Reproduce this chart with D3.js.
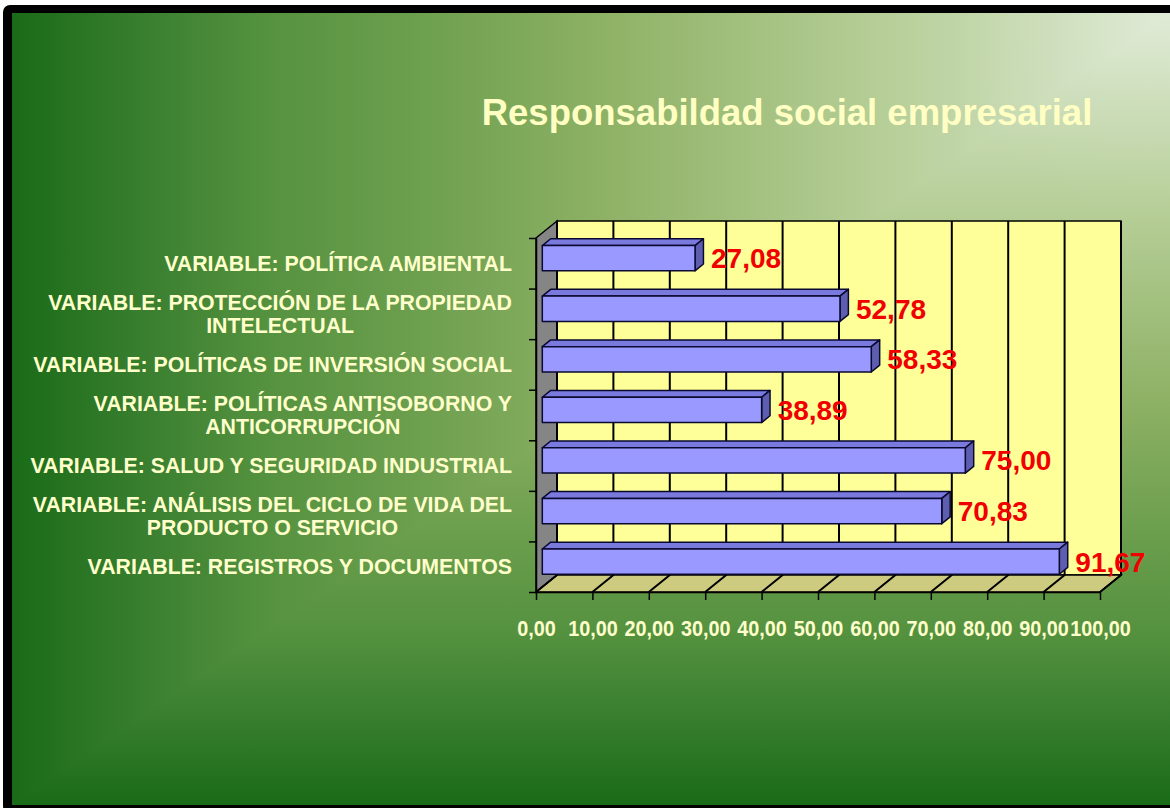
<!DOCTYPE html>
<html>
<head>
<meta charset="utf-8">
<script src="https://cdn.jsdelivr.net/npm/d3@7"></script>
<style>
  html, body { margin: 0; padding: 0; background: #ffffff; }
  svg { display: block; }
  text { font-family: "Liberation Sans", Arial, sans-serif; }
</style>
</head>
<body>
<svg id="chart" width="1170" height="808"></svg>
<script>
// Chart data
const title = "Responsabildad social empresarial";
const categories = [
  "VARIABLE: POLÍTICA AMBIENTAL",
  "VARIABLE: PROTECCIÓN DE LA PROPIEDAD\nINTELECTUAL",
  "VARIABLE: POLÍTICAS DE INVERSIÓN SOCIAL",
  "VARIABLE: POLÍTICAS ANTISOBORNO Y\nANTICORRUPCIÓN",
  "VARIABLE: SALUD Y SEGURIDAD INDUSTRIAL",
  "VARIABLE: ANÁLISIS DEL CICLO DE VIDA DEL\nPRODUCTO O SERVICIO",
  "VARIABLE: REGISTROS Y DOCUMENTOS"
];
const values = [27.08, 52.78, 58.33, 38.89, 75.00, 70.83, 91.67];
const xTicks = [0, 10, 20, 30, 40, 50, 60, 70, 80, 90, 100];

const svg = d3.select("#chart");
const W = 1170, H = 808;
const defs = svg.append("defs");

// Frame and background: corner gradient lit from the top-right
const inner = { x: 12, y: 13, w: W - 12, h: 805 - 13 };
const stops = [
  [0.00, "#dde9d3"], [0.10, "#cddebb"], [0.25, "#b6ce97"], [0.50, "#8cb063"],
  [0.65, "#6c9f4e"], [0.78, "#55923f"], [0.88, "#3a8030"], [1.00, "#1a6b17"]
];
function addGrad(id, x1, y1, x2, y2) {
  const g = defs.append("linearGradient").attr("id", id)
    .attr("gradientUnits", "userSpaceOnUse")
    .attr("x1", x1).attr("y1", y1).attr("x2", x2).attr("y2", y2);
  stops.forEach(s => g.append("stop").attr("offset", s[0]).attr("stop-color", s[1]));
}
addGrad("gh", inner.x + inner.w, 0, inner.x, 0);
addGrad("gv", 0, inner.y, 0, inner.y + inner.h);
const glow = defs.append("radialGradient").attr("id", "glow")
  .attr("gradientUnits", "userSpaceOnUse").attr("cx", 1150).attr("cy", 25).attr("r", 200);
glow.append("stop").attr("offset", 0).attr("stop-color", "#ffffff").attr("stop-opacity", 0.08);
glow.append("stop").attr("offset", 1).attr("stop-color", "#ffffff").attr("stop-opacity", 0);

svg.append("rect").attr("x", 3).attr("y", 5).attr("width", W + 10).attr("height", H)
  .attr("rx", 7).attr("fill", "#000");
svg.append("rect").attr("x", inner.x).attr("y", inner.y)
  .attr("width", inner.w).attr("height", inner.h).attr("fill", "url(#gh)");
svg.append("polygon")
  .attr("points", [[inner.x + inner.w, inner.y], [inner.x + inner.w, inner.y + inner.h], [inner.x, inner.y + inner.h]].join(" "))
  .attr("fill", "url(#gv)");
svg.append("rect").attr("x", inner.x).attr("y", inner.y)
  .attr("width", inner.w).attr("height", inner.h).attr("fill", "url(#glow)");

// Title
svg.append("text")
  .attr("x", 787).attr("y", 125)
  .attr("text-anchor", "middle")
  .attr("font-size", 36.5).attr("font-weight", "bold")
  .attr("fill", "#ffffc4")
  .text(title);

// 3D plot geometry (oblique projection)
const origin = { x: 536, y: 238 };       // front plane, top-left corner
const plotW = 564, plotH = 354;
const depth = { dx: 21, dy: -17 };      // full depth of the box

const x = d3.scaleLinear().domain([0, 100]).range([0, plotW]);
const y = d3.scaleBand().domain(categories).range([0, plotH]);
const yEdge = d3.scaleLinear().domain([0, categories.length]).range([0, plotH]);

function P(px, py, d) {
  return [origin.x + px + d * depth.dx, origin.y + py + d * depth.dy];
}

const g = svg.append("g");

// Back wall
g.append("polygon")
  .attr("points", [P(0, 0, 1), P(plotW, 0, 1), P(plotW, plotH, 1), P(0, plotH, 1)].join(" "))
  .attr("fill", "#ffff99").attr("stroke", "#000").attr("stroke-width", 1.5);

// Floor
g.append("polygon")
  .attr("points", [P(0, plotH, 0), P(plotW, plotH, 0), P(plotW, plotH, 1), P(0, plotH, 1)].join(" "))
  .attr("fill", "#cdcb80").attr("stroke", "#000").attr("stroke-width", 1.5);

// Side wall
g.append("polygon")
  .attr("points", [P(0, 0, 0), P(0, 0, 1), P(0, plotH, 1), P(0, plotH, 0)].join(" "))
  .attr("fill", "#858585").attr("stroke", "#000").attr("stroke-width", 1.5);

// Gridlines on back wall and floor
const grid = g.append("g").attr("stroke", "#000").attr("stroke-width", 2);
xTicks.forEach(t => {
  const a = P(x(t), 0, 1), b = P(x(t), plotH, 1), c = P(x(t), plotH, 0);
  grid.append("polyline").attr("fill", "none").attr("points", [a, b, c].join(" "));
});

// Bars
const d1 = 0.3, d2 = 0.7;
const bdx = (d2 - d1) * depth.dx, bdy = (d2 - d1) * depth.dy;
const barH = y.bandwidth() * 0.5;
const bars = g.append("g").selectAll("g.bar")
  .data(categories.map((c, i) => ({ c, v: values[i] })))
  .join("g").attr("class", "bar")
  .attr("stroke", "#0a0a30").attr("stroke-width", 1.5).attr("stroke-linejoin", "round");

bars.each(function (d) {
  const sel = d3.select(this);
  const top = y(d.c) + (y.bandwidth() - barH) / 2;
  const [xs, yt] = P(x(0), top, d1);
  const [xe, yb] = P(x(d.v), top + barH, d1);
  sel.append("polygon")
    .attr("points", [[xs, yt], [xe, yt], [xe + bdx, yt + bdy], [xs + bdx, yt + bdy]].join(" "))
    .attr("fill", "#7a7ade");
  sel.append("polygon")
    .attr("points", [[xe, yt], [xe + bdx, yt + bdy], [xe + bdx, yb + bdy], [xe, yb]].join(" "))
    .attr("fill", "#5e5eb0");
  sel.append("rect")
    .attr("x", xs).attr("y", yt).attr("width", xe - xs).attr("height", yb - yt)
    .attr("fill", "#9999ff");
});

// Value labels
const fmt = v => d3.format(".2f")(v).replace(".", ",");
g.append("g").selectAll("text")
  .data(categories.map((c, i) => ({ c, v: values[i] })))
  .join("text")
  .attr("x", d => P(x(d.v), 0, d1)[0] + 16)
  .attr("y", d => P(0, y(d.c) + y.bandwidth() / 2, d1)[1] + 10)
  .attr("font-size", 28).attr("font-weight", "bold")
  .attr("fill", "#f00000")
  .text(d => fmt(d.v));

// Bottom axis (front edge of the floor)
const xAxis = g.append("g")
  .attr("transform", `translate(${origin.x},${origin.y + plotH})`)
  .call(d3.axisBottom(x).tickValues(xTicks).tickSize(8).tickSizeOuter(0).tickFormat(fmt));
xAxis.select(".domain").attr("stroke", "#000").attr("stroke-width", 1.5);
xAxis.selectAll(".tick line").attr("stroke", "#000").attr("stroke-width", 1.5);
xAxis.selectAll(".tick text")
  .attr("y", 28).attr("dy", "0.71em")
  .attr("transform", "scale(0.88,1)")
  .attr("font-family", "\"Liberation Sans\", Arial, sans-serif")
  .attr("font-size", 22.5).attr("font-weight", "bold")
  .attr("fill", "#ffffcc");

// Left axis (front edge of the side wall), ticks between categories
const yAxis = g.append("g")
  .attr("transform", `translate(${origin.x},${origin.y})`)
  .call(d3.axisLeft(yEdge).tickValues(d3.range(categories.length + 1)).tickSize(7).tickSizeOuter(0).tickFormat(""));
yAxis.select(".domain").attr("stroke", "#000").attr("stroke-width", 1.5);
yAxis.selectAll(".tick line").attr("stroke", "#000").attr("stroke-width", 1.5);

// Category labels, right-aligned block, lines centred within the block
const labelRight = 512, lineH = 23;
const catG = svg.append("g")
  .attr("font-size", 21.3).attr("font-weight", "bold").attr("fill", "#ffffcc");
categories.forEach(c => {
  const lines = c.split("\n");
  const cy = P(0, y(c) + y.bandwidth() / 2, 0)[1];
  const t = catG.append("text").attr("text-anchor", "middle");
  const spans = lines.map((ln, k) => t.append("tspan")
    .attr("y", cy - (lines.length - 1) * lineH / 2 + k * lineH + 7.5)
    .text(ln));
  const maxW = d3.max(spans, s => s.node().getComputedTextLength());
  spans.forEach(s => s.attr("x", labelRight - maxW / 2));
});
</script>
</body>
</html>
